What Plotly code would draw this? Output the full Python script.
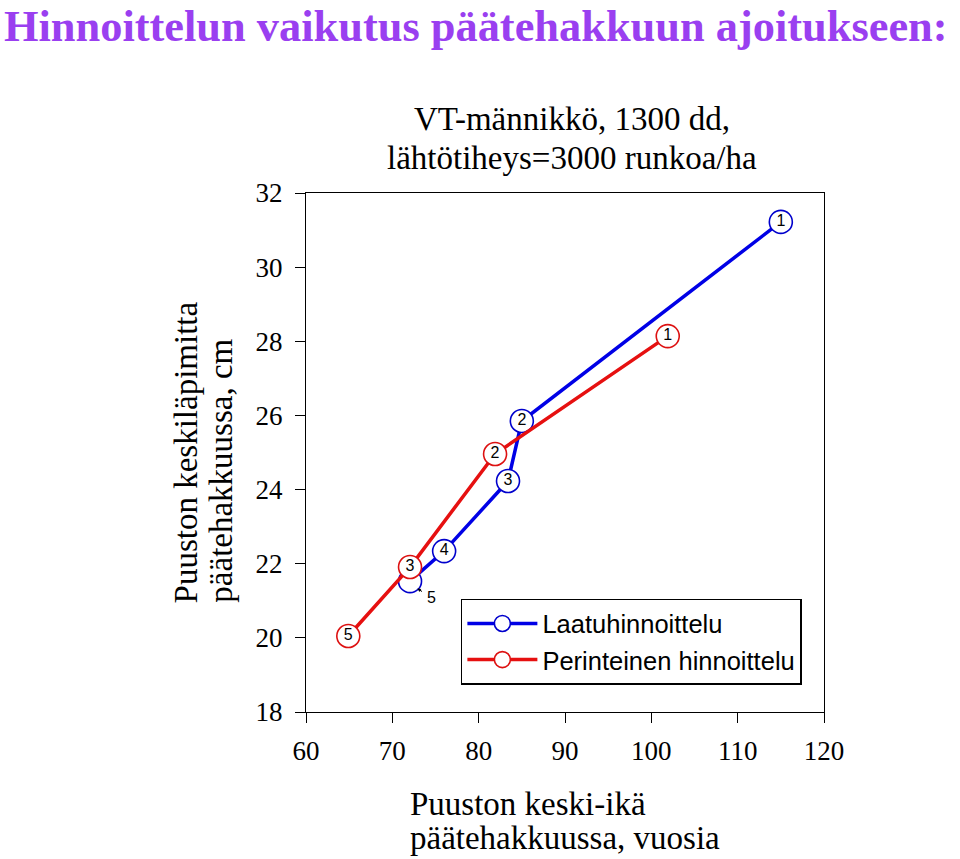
import plotly.graph_objects as go

# Data
blue_age = [115.0, 85.0, 83.4, 76.0, 72.05]
blue_diam = [31.22, 25.85, 24.23, 22.34, 21.53]
blue_labels = ["1", "2", "3", "4", ""]

red_age = [101.9, 81.9, 72.05, 64.9]
red_diam = [28.14, 24.96, 21.91, 20.05]
red_labels = ["1", "2", "3", "5"]

x_ticks = [60, 70, 80, 90, 100, 110, 120]
y_ticks = [18, 20, 22, 24, 26, 28, 30, 32]

SERIF = "Liberation Serif, Times New Roman, serif"
SANS = "Liberation Sans, Arial, sans-serif"

fig = go.Figure()
fig.add_trace(go.Scatter(
    x=blue_age, y=blue_diam, mode="lines+markers+text", name="Laatuhinnoittelu",
    text=blue_labels, textposition="middle center",
    textfont=dict(family=SANS, size=16, color="black"),
    line=dict(color="#0000e6", width=3.5),
    marker=dict(symbol="circle", size=23, color="white", line=dict(color="#0000cc", width=1.6)),
))
fig.add_trace(go.Scatter(
    x=red_age, y=red_diam, mode="lines+markers+text", name="Perinteinen hinnoittelu",
    text=red_labels, textposition="middle center",
    textfont=dict(family=SANS, size=16, color="black"),
    line=dict(color="#e61010", width=3.5),
    marker=dict(symbol="circle", size=23, color="white", line=dict(color="#dd1111", width=1.6)),
))

axis_common = dict(
    showgrid=False, zeroline=False, showline=True, linecolor="black", linewidth=1.3,
    mirror=True, ticks="outside", ticklen=10, tickwidth=1.3, tickcolor="black",
    tickfont=dict(family=SERIF, size=27, color="black"),
)
fig.update_xaxes(range=[60, 120], tickvals=x_ticks, ticklabelstandoff=4, **axis_common)
fig.update_yaxes(range=[18, 32], tickvals=y_ticks, ticklabelstandoff=7, **axis_common)

def ann(text, x, y, size=33, **kw):
    d = dict(text=text, xref="paper", yref="paper", x=x, y=y, showarrow=False,
             font=dict(family=SERIF, size=size, color="black"))
    d.update(kw)
    return d

annotations = [
    dict(text="<b>Hinnoittelun vaikutus päätehakkuun ajoitukseen:</b>", xref="paper", yref="paper",
         x=-0.585, y=1.3715, xanchor="left", yanchor="top", showarrow=False, borderpad=0,
         font=dict(family=SERIF, size=44.4, color="#9a3ff0")),
    # subtitle lines
    ann("VT-männikkö, 1300 dd,", 0.5135, 1.1425, xanchor="center", yanchor="middle"),
    ann("lähtötiheys=3000 runkoa/ha", 0.5135, 1.0675, xanchor="center", yanchor="middle"),
    # y axis title lines (rotated, bottom-aligned)
    ann("Puuston keskiläpimitta", -0.231, 0.206, xanchor="center", yanchor="bottom", textangle=-90),
    ann("päätehakkuussa, cm", -0.163, 0.206, xanchor="center", yanchor="bottom", textangle=-90),
    # x axis title lines (left-aligned)
    ann("Puuston keski-ikä", 0.197, -0.178, xanchor="left", yanchor="middle"),
    ann("päätehakkuussa, vuosia", 0.197, -0.243, xanchor="left", yanchor="middle"),
    dict(text="5", x=blue_age[4] + 0.85, y=blue_diam[4] - 0.2, xref="x", yref="y",
         ax=14, ay=9, showarrow=True, arrowhead=2, arrowsize=0.7, arrowwidth=1, arrowcolor="black",
         standoff=0, startstandoff=4, font=dict(family=SANS, size=16, color="black")),
]

fig.update_layout(
    width=960, height=859,
    margin=dict(l=306, r=136, t=193, b=147),
    paper_bgcolor="white", plot_bgcolor="white",
    showlegend=True,
    legend=dict(
        x=0.299, y=0.218, xanchor="left", yanchor="top",
        bordercolor="black", borderwidth=1.5, bgcolor="white",
        font=dict(family=SANS, size=25.5, color="black"),
        itemwidth=70, tracegroupgap=0,
        entrywidth=310, entrywidthmode="pixels",
    ),
    annotations=annotations,
)

fig.write_html("out.html", config={"displayModeBar": False},
               post_script="document.body.style.margin='0';")
